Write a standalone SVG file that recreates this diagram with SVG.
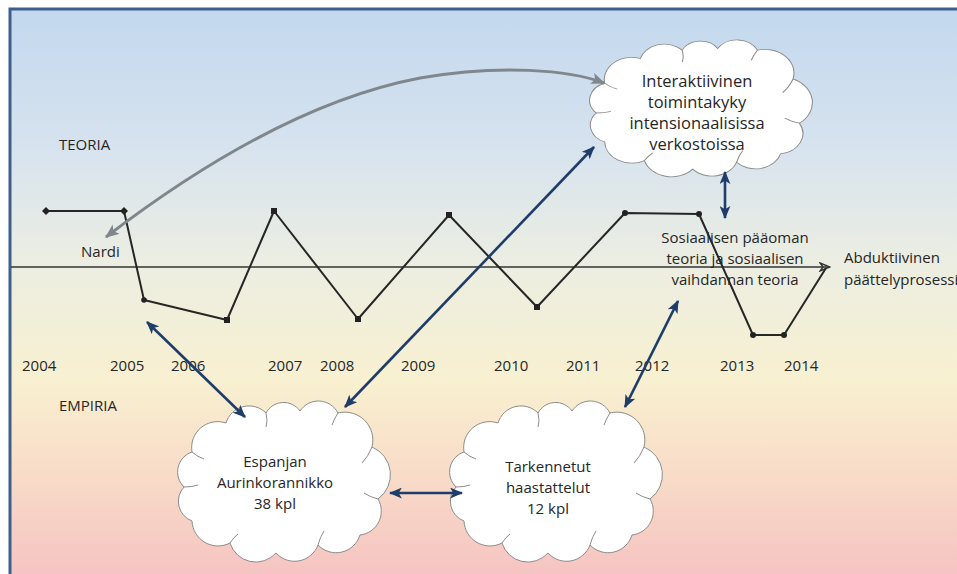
<svg xmlns="http://www.w3.org/2000/svg" width="957" height="574" viewBox="0 0 957 574">
  <defs>
    <linearGradient id="bg" x1="0" y1="9" x2="0" y2="574" gradientUnits="userSpaceOnUse">
      <stop offset="0" stop-color="#c3d8ee"/>
      <stop offset="0.25" stop-color="#d7e3ee"/>
      <stop offset="0.45" stop-color="#eceee2"/>
      <stop offset="0.66" stop-color="#f8f0d0"/>
      <stop offset="0.82" stop-color="#f8dcc8"/>
      <stop offset="1" stop-color="#f6c4c2"/>
    </linearGradient>
    <marker id="ah" viewBox="0 0 12 10" refX="11" refY="5" markerWidth="13" markerHeight="11" orient="auto-start-reverse" markerUnits="userSpaceOnUse">
      <path d="M0,0 L12,5 L0,10 L3,5 Z" fill="#1f3d6b"/>
    </marker>
    <marker id="gh" viewBox="0 0 12 10" refX="11" refY="5" markerWidth="14" markerHeight="12" orient="auto-start-reverse" markerUnits="userSpaceOnUse">
      <path d="M0,0 L12,5 L0,10 L3,5 Z" fill="#7f868c"/>
    </marker>
    <marker id="axh" viewBox="0 0 12 10" refX="11" refY="5" markerWidth="12" markerHeight="10" orient="auto" markerUnits="userSpaceOnUse">
      <path d="M1,1 L11,5 L1,9 L4,5 Z" fill="none" stroke="#333" stroke-width="1.4"/>
    </marker>
    <!-- cloud outline in a 212 x 147 box -->
    <path id="cloud" d="M14,45 A26,26 0 0 1 48,16 A24,24 0 0 1 88,6 A20,20 0 0 1 122,4 A22,22 0 0 1 160,6 A28,28 0 0 1 194,40 A30,30 0 0 1 200,92 A24,24 0 0 1 182,128 A25,25 0 0 1 140,138 A25,25 0 0 1 98,146 A27,27 0 0 1 52,136 A26,26 0 0 1 14,114 A21,21 0 0 1 6,80 A21,21 0 0 1 14,45 Z"/>
    <path id="creases" d="M14,45 Q20,50 26,52 M88,6 Q90,14 88,20 M160,6 Q156,12 154,18 M194,40 Q190,50 184,56 M200,92 Q192,90 186,86 M140,138 Q142,130 146,124 M52,136 Q56,130 60,127 M6,80 Q14,80 20,78"/>
  </defs>
  <style>
    .lbl { font-family: "Open Sans", "Liberation Sans", sans-serif; font-size: 15px; fill: #262626; }
    .big { font-size: 16.5px; }
    .ctr { text-anchor: middle; }
    .cl use.o { fill: #fff; stroke: #8c8c8c; stroke-width: 1; }
    .cl use.c { fill: none; stroke: #8c8c8c; stroke-width: 1; }
    .blue { fill: none; stroke: #1f3d6b; stroke-width: 2.6; marker-start: url(#ah); marker-end: url(#ah); }
    .dot { fill: #222; }
  </style>

  <!-- background panel -->
  <rect x="0" y="0" width="957" height="574" fill="#fff"/>
  <rect x="10" y="9" width="965" height="580" fill="url(#bg)" stroke="#3e5f8c" stroke-width="3"/>

  <!-- time axis and process line -->
  <g id="timeline">
    <path d="M11,267 L830,267" stroke="#333" stroke-width="1.5" fill="none" marker-end="url(#axh)"/>
    <polyline points="46,211 124,211 144,300 227,320 274,211 358,319 449,215 537,307 625,213 699,214 753,335 784,335 826,268" fill="none" stroke="#262626" stroke-width="2" stroke-linejoin="round"/>
    <g class="dot">
      <path d="M46,207 L50,211 L46,215 L42,211 Z"/>
      <path d="M124,207 L128,211 L124,215 L120,211 Z"/>
      <circle cx="144" cy="300" r="2.8"/>
      <rect x="224" y="317" width="6" height="6"/>
      <rect x="271" y="208" width="6" height="6"/>
      <rect x="355" y="316" width="6" height="6"/>
      <rect x="446" y="212" width="6" height="6"/>
      <rect x="534" y="304" width="6" height="6"/>
      <circle cx="625" cy="213" r="3"/>
      <circle cx="699" cy="214" r="3"/>
      <circle cx="753" cy="335" r="3"/>
      <circle cx="784" cy="335" r="3"/>
    </g>
  </g>

  <!-- labels -->
  <g id="labels" class="lbl">
    <text x="59" y="150">TEORIA</text>
    <text x="59" y="411">EMPIRIA</text>
    <text x="81" y="257">Nardi</text>
    <text x="22" y="371">2004</text>
    <text x="110" y="371">2005</text>
    <text x="171" y="371">2006</text>
    <text x="268" y="371">2007</text>
    <text x="320" y="371">2008</text>
    <text x="401" y="371">2009</text>
    <text x="494" y="371">2010</text>
    <text x="566" y="371">2011</text>
    <text x="635" y="371">2012</text>
    <text x="720" y="371">2013</text>
    <text x="784" y="371">2014</text>
  </g>

  <g id="sosiaalinen" class="lbl ctr">
    <text x="735" y="243">Sosiaalisen pääoman</text>
    <text x="735" y="264">teoria ja sosiaalisen</text>
    <text x="735" y="285">vaihdannan teoria</text>
  </g>

  <g id="abduktiivinen" class="lbl">
    <text x="844" y="263">Abduktiivinen</text>
    <text x="844" y="285">päättelyprosessi</text>
  </g>

  <!-- clouds -->
  <g id="interaktiivinen" class="cl">
    <g transform="translate(590,45) scale(1.047,0.85)">
      <use class="o" href="#cloud" vector-effect="non-scaling-stroke"/>
      <use class="c" href="#creases"/>
    </g>
    <g class="lbl big ctr">
      <text x="697" y="87">Interaktiivinen</text>
      <text x="697" y="108">toimintakyky</text>
      <text x="697" y="129">intensionaalisissa</text>
      <text x="697" y="150">verkostoissa</text>
    </g>
  </g>

  <g id="espanjan" class="cl">
    <g transform="translate(178,407)">
      <use class="o" href="#cloud"/>
      <use class="c" href="#creases"/>
    </g>
    <g class="lbl ctr">
      <text x="275" y="467">Espanjan</text>
      <text x="275" y="488">Aurinkorannikko</text>
      <text x="275" y="509">38 kpl</text>
    </g>
  </g>

  <g id="tarkennetut" class="cl">
    <g transform="translate(450,407)">
      <use class="o" href="#cloud"/>
      <use class="c" href="#creases"/>
    </g>
    <g class="lbl ctr">
      <text x="548" y="472">Tarkennetut</text>
      <text x="548" y="493">haastattelut</text>
      <text x="548" y="514">12 kpl</text>
    </g>
  </g>

  <!-- connectors -->
  <g id="connectors">
    <path d="M604,83 C570,70 500,64 420,78 C310,99 200,165 106,237" fill="none" stroke="#7f868c" stroke-width="3" marker-start="url(#gh)" marker-end="url(#gh)"/>
    <line class="blue" x1="147" y1="322" x2="245" y2="417"/>
    <line class="blue" x1="345" y1="407" x2="594" y2="147"/>
    <line class="blue" x1="390" y1="493" x2="462" y2="493"/>
    <line class="blue" x1="625" y1="407" x2="678" y2="301"/>
    <line class="blue" x1="725" y1="172" x2="725" y2="218"/>
  </g>
</svg>
